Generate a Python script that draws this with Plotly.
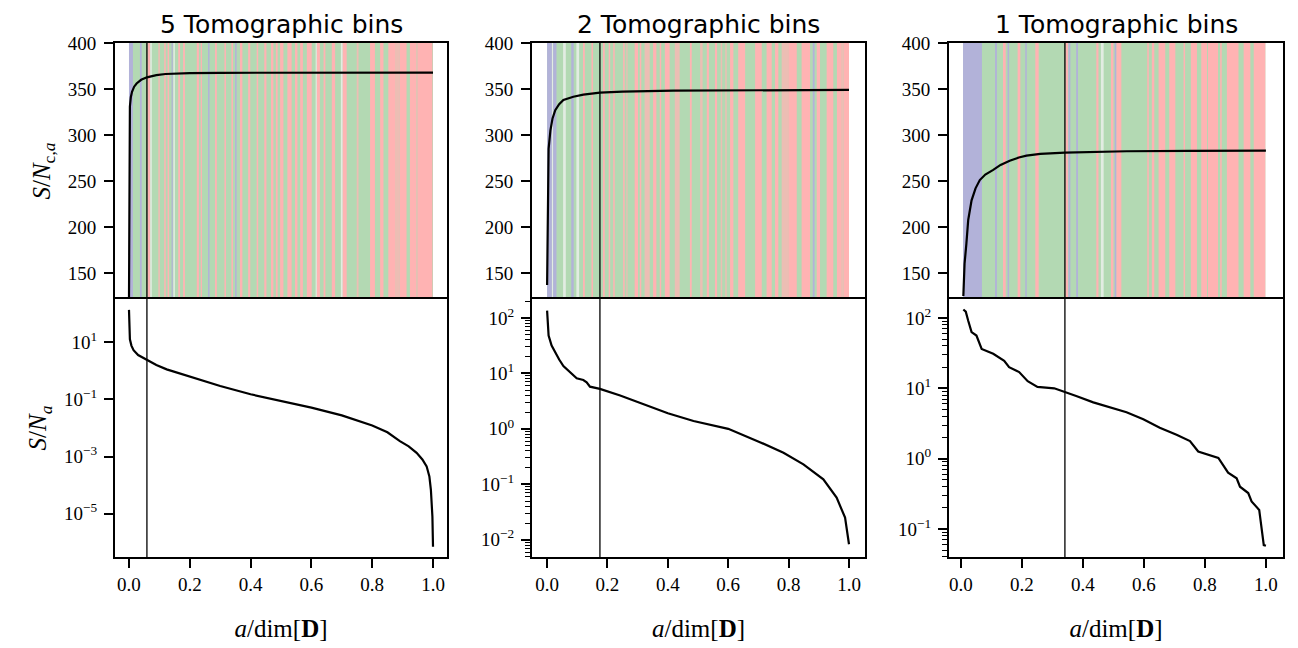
import plotly.graph_objects as go

W, H = 1298, 648
OFF = 8                      # default page margin of the html body
FW, FH = W - OFF, H - OFF    # figure size so that it fills the window

panel_titles = ["5 Tomographic bins", "2 Tomographic bins", "1 Tomographic bins"]

# ---- cumulative S/N (top row) ----
p1_cum_x = [0.0, 0.001, 0.003, 0.006, 0.01, 0.017, 0.025, 0.04, 0.059, 0.09, 0.12, 0.2, 0.3, 1.0]
p1_cum_y = [122, 300, 331, 341, 347, 352.5, 356, 360, 362.7, 365, 366.3, 367.2, 367.6, 367.8]
p2_cum_x = [0.0, 0.002, 0.005, 0.011, 0.018, 0.027, 0.04, 0.054, 0.07, 0.087, 0.12, 0.175,
            0.25, 0.418, 1.0]
p2_cum_y = [137, 240, 285, 305, 318, 327, 333.5, 338, 340, 341.6, 343.8, 346,
            347.2, 348.2, 349]
p3_cum_x = [0.008, 0.012, 0.018, 0.024, 0.035, 0.048, 0.062, 0.08, 0.106, 0.13, 0.16, 0.19,
            0.215, 0.26, 0.341, 0.45, 0.543, 0.75, 1.0]
p3_cum_y = [125, 160, 182, 207.6, 229, 242, 251, 257, 262, 267.5, 272, 275.5,
            277.5, 279.5, 280.8, 281.8, 282.3, 282.7, 282.9]

# ---- per-mode S/N (bottom row), log10 values ----
p1_sn_x = [0.0, 0.0005, 0.001, 0.003, 0.008, 0.015, 0.03, 0.059, 0.09, 0.124, 0.2, 0.3,
           0.4, 0.5, 0.6, 0.7, 0.8, 0.85, 0.891, 0.92, 0.946, 0.965, 0.979, 0.988,
           0.993, 0.998, 1.0]
p1_sn_log = [2.13, 1.7, 1.42, 1.1, 0.88, 0.72, 0.55, 0.38, 0.2, 0.05, -0.2, -0.53,
             -0.82, -1.05, -1.29, -1.56, -1.91, -2.15, -2.46, -2.64, -2.87, -3.1, -3.34, -3.69,
             -4.16, -5.1, -6.15]
p2_sn_x = [0.0, 0.005, 0.015, 0.026, 0.04, 0.054, 0.075, 0.098, 0.12, 0.131, 0.142, 0.175,
           0.242, 0.32, 0.4, 0.485, 0.6, 0.705, 0.783, 0.849, 0.915, 0.959, 0.987, 1.0]
p2_sn_log = [2.13, 1.68, 1.5, 1.38, 1.25, 1.13, 1.02, 0.91, 0.88, 0.84, 0.76, 0.72,
             0.6, 0.44, 0.28, 0.14, 0.0, -0.24, -0.43, -0.64, -0.91, -1.24, -1.6, -2.08]
p3_sn_x = [0.008, 0.016, 0.024, 0.035, 0.051, 0.068, 0.106, 0.142, 0.158, 0.191, 0.219,
           0.251, 0.306, 0.341, 0.378, 0.434, 0.478, 0.543, 0.598, 0.652, 0.707, 0.751,
           0.778, 0.805, 0.844, 0.876, 0.904, 0.915, 0.942, 0.953, 0.978, 0.993, 1.0]
p3_sn_log = [2.12, 2.09, 1.96, 1.8, 1.75, 1.56, 1.49, 1.39, 1.30, 1.23, 1.10,
             1.02, 1.0, 0.95, 0.89, 0.80, 0.74, 0.66, 0.56, 0.44, 0.34, 0.25,
             0.10, 0.06, 0.01, -0.2, -0.28, -0.40, -0.49, -0.61, -0.73, -1.23, -1.24]

# position of the vertical marker line in each panel
cut_x = [0.059, 0.175, 0.341]

# ---- coloured mode bands (b = bin-blue, g = green, r = red, w = pale, p = blended) ----
band_span = [(0.0, 1.0), (0.0, 1.0), (0.007, 0.998)]
p1_bands = [(0.0, 0.013, 'b'), (0.036, 0.042, 'b'), (0.061, 0.07, 'r'), (0.07, 0.075, 'w'),
            (0.097, 0.101, 'r'), (0.116, 0.121, 'r'), (0.127, 0.132, 'r'), (0.14, 0.144, 'b'),
            (0.146, 0.151, 'w'), (0.162, 0.168, 'r'), (0.178, 0.184, 'r'), (0.223, 0.23, 'r'),
            (0.236, 0.24, 'r'), (0.26, 0.265, 'b'), (0.283, 0.289, 'r'), (0.314, 0.319, 'r'),
            (0.337, 0.342, 'r'), (0.349, 0.354, 'b'), (0.365, 0.373, 'r'), (0.392, 0.399, 'r'),
            (0.42, 0.425, 'r'), (0.445, 0.452, 'r'), (0.467, 0.475, 'r'), (0.483, 0.489, 'r'),
            (0.497, 0.508, 'r'), (0.521, 0.535, 'r'), (0.546, 0.554, 'r'), (0.563, 0.572, 'r'),
            (0.585, 0.601, 'r'), (0.614, 0.618, 'w'), (0.618, 0.628, 'r'), (0.64, 0.646, 'r'),
            (0.667, 0.678, 'r'), (0.697, 0.703, 'w'), (0.703, 0.716, 'r'), (0.749, 0.755, 'p'),
            (0.793, 0.809, 'r'), (0.826, 0.837, 'r'), (0.853, 0.875, 'r'), (0.875, 0.891, 'p'),
            (0.891, 0.913, 'r'), (0.924, 0.945, 'r'), (0.945, 0.95, 'p'), (0.95, 0.998, 'r')]
p2_bands = [(0.0, 0.016, 'b'), (0.016, 0.02, 'w'), (0.02, 0.031, 'b'), (0.053, 0.062, 'w'),
            (0.08, 0.088, 'b'), (0.097, 0.106, 'w'), (0.119, 0.125, 'r'), (0.147, 0.152, 'r'),
            (0.185, 0.191, 'r'), (0.204, 0.209, 'r'), (0.219, 0.224, 'r'), (0.252, 0.257, 'r'),
            (0.263, 0.266, 'r'), (0.29, 0.301, 'r'), (0.307, 0.312, 'r'), (0.323, 0.34, 'p'),
            (0.351, 0.362, 'r'), (0.373, 0.378, 'r'), (0.39, 0.406, 'r'), (0.423, 0.439, 'p'),
            (0.473, 0.479, 'r'), (0.507, 0.515, 'p'), (0.529, 0.536, 'r'), (0.556, 0.563, 'r'),
            (0.575, 0.58, 'p'), (0.59, 0.595, 'p'), (0.606, 0.617, 'r'), (0.633, 0.656, 'r'),
            (0.689, 0.711, 'r'), (0.727, 0.744, 'r'), (0.755, 0.766, 'r'), (0.777, 0.799, 'p'),
            (0.799, 0.827, 'r'), (0.843, 0.871, 'r'), (0.88, 0.886, 'b'), (0.893, 0.904, 'r'),
            (0.926, 0.948, 'r'), (0.96, 0.976, 'r'), (0.976, 0.983, 'p'), (0.983, 1.0, 'r')]
p3_bands = [(0.007, 0.069, 'b'), (0.112, 0.118, 'b'), (0.138, 0.147, 'r'), (0.153, 0.158, 'b'),
            (0.186, 0.195, 'r'), (0.211, 0.216, 'b'), (0.244, 0.255, 'r'), (0.343, 0.351, 'r'),
            (0.353, 0.359, 'b'), (0.378, 0.384, 'b'), (0.444, 0.451, 'r'), (0.459, 0.468, 'w'),
            (0.492, 0.5, 'r'), (0.504, 0.51, 'b'), (0.51, 0.526, 'r'), (0.611, 0.616, 'r'),
            (0.626, 0.634, 'r'), (0.648, 0.67, 'r'), (0.683, 0.703, 'r'), (0.73, 0.735, 'r'),
            (0.754, 0.774, 'r'), (0.788, 0.807, 'r'), (0.81, 0.843, 'r'), (0.85, 0.855, 'r'),
            (0.872, 0.91, 'r'), (0.927, 0.949, 'r'), (0.96, 0.998, 'r')]

band_colors = {'b': 'rgb(178,178,217)', 'g': 'rgb(179,217,179)', 'r': 'rgb(255,179,179)',
               'w': 'rgb(226,236,226)', 'p': 'rgb(236,190,180)'}

top_yticks = [150, 200, 250, 300, 350, 400]
bot_yticks = [[1e1, 1e-1, 1e-3, 1e-5], [1e2, 1e1, 1e0, 1e-1, 1e-2], [1e2, 1e1, 1e0, 1e-1]]
bot_ytext = [["10<sup>1</sup>", "10<sup>−1</sup>", "10<sup>−3</sup>", "10<sup>−5</sup>"],
             ["10<sup>2</sup>", "10<sup>1</sup>", "10<sup>0</sup>", "10<sup>−1</sup>", "10<sup>−2</sup>"],
             ["10<sup>2</sup>", "10<sup>1</sup>", "10<sup>0</sup>", "10<sup>−1</sup>"]]
x_ticks = [0.0, 0.2, 0.4, 0.6, 0.8, 1.0]
x_ticktext = ["0.0", "0.2", "0.4", "0.6", "0.8", "1.0"]

cum_x = [p1_cum_x, p2_cum_x, p3_cum_x]
cum_y = [p1_cum_y, p2_cum_y, p3_cum_y]
sn_x = [p1_sn_x, p2_sn_x, p3_sn_x]
sn_y = [[10 ** v for v in p1_sn_log], [10 ** v for v in p2_sn_log], [10 ** v for v in p3_sn_log]]
bands = [p1_bands, p2_bands, p3_bands]


# ---- layout geometry (window pixels -> paper fractions) ----
def fx(px):
    return (px - OFF) / FW


def fy(py):
    return 1 - (py - OFF) / FH


xdom = [[fx(115), fx(447)], [fx(532), fx(865)], [fx(949), fx(1283)]]
top_dom = [fy(299), fy(43)]
bot_dom = [fy(557), fy(299)]
xranges = [[-0.046, 1.046], [-0.05, 1.053], [-0.039, 1.056]]
bot_ranges = [[-6.51, 2.51], [-2.31, 2.34], [-1.40, 2.27]]
top_range = [121.7, 400]

tick_font = dict(family="Liberation Serif", size=19, color="black")
label_font = dict(family="Liberation Serif", size=25, color="black")

fig = go.Figure()
layout = dict(width=FW, height=FH, margin=dict(l=0, r=0, t=0, b=0, autoexpand=False),
              paper_bgcolor="white", plot_bgcolor="white", showlegend=False)
shapes = []
annotations = []

axis_common = dict(showline=True, linecolor="black", linewidth=2,
                   showgrid=False, zeroline=False, automargin=False)

for i in range(3):
    t = i + 1          # top subplot index
    b = i + 4          # bottom subplot index
    tx = "x" if t == 1 else f"x{t}"
    ty = "y" if t == 1 else f"y{t}"
    bx, by = f"x{b}", f"y{b}"

    fig.add_trace(go.Scatter(x=cum_x[i], y=cum_y[i], mode="lines", xaxis=tx, yaxis=ty,
                             line=dict(color="black", width=2.2), hoverinfo="skip"))
    fig.add_trace(go.Scatter(x=sn_x[i], y=sn_y[i], mode="lines", xaxis=bx, yaxis=by,
                             line=dict(color="black", width=2.2), hoverinfo="skip"))

    # top axes: x line only on the top edge (bottom edge is drawn by the lower panel)
    layout["xaxis" if t == 1 else f"xaxis{t}"] = dict(
        axis_common, domain=xdom[i], anchor=ty, range=xranges[i], side="top", mirror=False,
        showticklabels=False, ticks="")
    layout["yaxis" if t == 1 else f"yaxis{t}"] = dict(
        axis_common, domain=top_dom, anchor=tx, range=top_range, mirror=True,
        tickmode="array", tickvals=top_yticks, ticks="outside", ticklen=9, tickwidth=1.6,
        tickcolor="black", tickfont=tick_font, ticklabelstandoff=4)
    # bottom axes
    minor_vals = []
    if i > 0:
        for e in range(-3, 3):
            for k in range(2, 10):
                minor_vals.append(k * 10 ** e)
    layout[f"xaxis{b}"] = dict(
        axis_common, domain=xdom[i], anchor=by, range=xranges[i], mirror=True,
        tickmode="array", tickvals=x_ticks, ticktext=x_ticktext, ticks="outside",
        ticklen=9, tickwidth=1.6, tickcolor="black", tickfont=tick_font,
        ticklabelstandoff=0,
        title=dict(text="<i>a</i>/dim[<b>D</b>]", font=label_font, standoff=26))
    ydict = dict(
        axis_common, domain=bot_dom, anchor=bx, type="log", range=bot_ranges[i], mirror=True,
        tickmode="array", tickvals=bot_yticks[i], ticktext=bot_ytext[i], ticks="outside",
        ticklen=9, tickwidth=1.6, tickcolor="black", tickfont=tick_font, ticklabelstandoff=3)
    if minor_vals:
        ydict["minor"] = dict(tickmode="array", tickvals=minor_vals, ticks="outside",
                              ticklen=5, tickwidth=1.2, tickcolor="black", showgrid=False)
    layout[f"yaxis{b}"] = ydict

    # coloured bands: green base over the span, then stripes
    x0s, x1s = band_span[i]
    shapes.append(dict(type="rect", xref=tx, yref=f"{ty} domain", x0=x0s, x1=x1s, y0=0, y1=1,
                       fillcolor=band_colors['g'], line=dict(width=0), layer="below"))
    for (a0, a1, c) in bands[i]:
        shapes.append(dict(type="rect", xref=tx, yref=f"{ty} domain", x0=a0, x1=a1, y0=0, y1=1,
                           fillcolor=band_colors[c], line=dict(width=0), layer="below"))

    # vertical marker line in both rows
    for xr, yr in ((tx, ty), (bx, by)):
        shapes.append(dict(type="line", xref=xr, yref=f"{yr} domain", x0=cut_x[i], x1=cut_x[i],
                           y0=0, y1=1, line=dict(color="black", width=1.3), layer="above"))

    annotations.append(dict(text=panel_titles[i], xref="paper", yref="paper",
                            x=(xdom[i][0] + xdom[i][1]) / 2, y=1.0,
                            xanchor="center", yanchor="top", showarrow=False,
                            font=dict(family="DejaVu Sans", size=25, color="black")))

layout["yaxis"]["title"] = dict(text="<i>S</i>/<i>N</i><sub>c,<i>a</i></sub>", font=label_font, standoff=10)
layout["yaxis4"]["title"] = dict(text="<i>S</i>/<i>N</i><sub><i>a</i></sub>", font=label_font, standoff=10)

layout["shapes"] = shapes
layout["annotations"] = annotations
fig.update_layout(**layout)

fig.write_html("out.html")
